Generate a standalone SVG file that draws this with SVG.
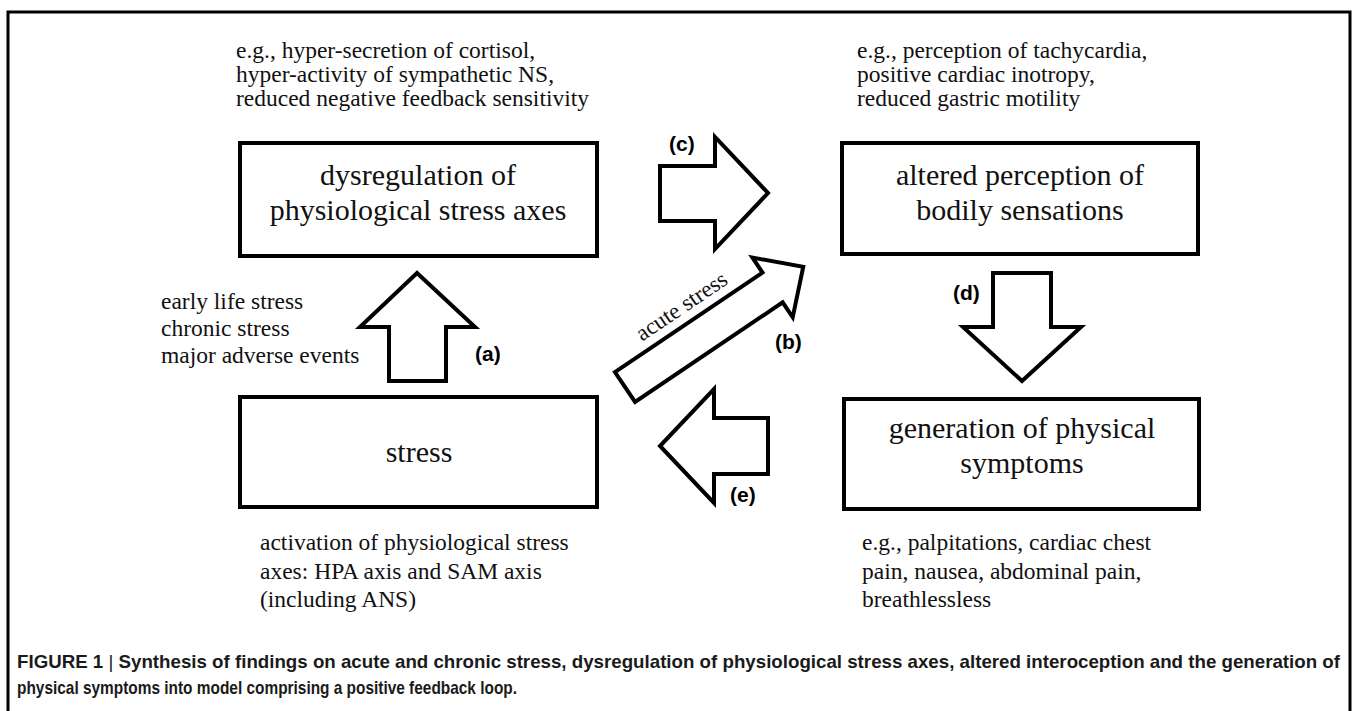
<svg xmlns="http://www.w3.org/2000/svg" width="1358" height="711" viewBox="0 0 1358 711">
<style>
.frame{fill:none;stroke:#000;stroke-width:3}
.box{fill:#fff;stroke:#000;stroke-width:4}
.arr{fill:#fff;stroke:#000;stroke-width:4;stroke-linejoin:miter}
.title{font-family:"Liberation Serif","Times New Roman",serif;font-size:30px;fill:#111;text-anchor:middle}
.note{font-family:"Liberation Serif","Times New Roman",serif;font-size:23.5px;fill:#111}
.lbl{font-family:"Liberation Sans",Arial,sans-serif;font-size:21px;font-weight:bold;fill:#000}
.cap{font-family:"Liberation Sans",Arial,sans-serif;font-size:19px;font-weight:bold;fill:#1a1a1a}
</style>
<rect x="0" y="0" width="1358" height="711" fill="#fff"/>
<rect class="frame" x="8" y="12" width="1342" height="760"/>

<g id="connectors">
  <polygon class="arr" points="417,273 475,327 446,327 446,381 389,381 389,327 360,327"/>
  <text class="lbl" x="475" y="361">(a)</text>
  <g transform="translate(625,387) rotate(-34)">
    <polygon class="arr" points="0,-18 178,-18 178,-36 215,0 178,36 178,18 0,18"/>
    <text class="note" x="92" y="-28" text-anchor="middle" style="font-size:23px">acute stress</text>
  </g>
  <text class="lbl" x="775" y="349">(b)</text>
  <polygon class="arr" points="660,166 715,166 715,137 768,193 715,249 715,221 660,221"/>
  <text class="lbl" x="669" y="151">(c)</text>
  <polygon class="arr" points="993,273 1051,273 1051,327 1081,327 1022,381 963,327 993,327"/>
  <text class="lbl" x="953" y="300">(d)</text>
  <polygon class="arr" points="768,418 714,418 714,389 660,446 714,503 714,474 768,474"/>
  <text class="lbl" x="730" y="502">(e)</text>
</g>

<g id="node-dysregulation">
  <rect class="box" x="240" y="143" width="357" height="113"/>
  <text class="title" x="418" y="185">dysregulation of</text>
  <text class="title" x="418" y="220">physiological stress axes</text>
  <text class="note" x="236" y="58">e.g., hyper-secretion of cortisol,</text>
  <text class="note" x="236" y="82">hyper-activity of sympathetic NS,</text>
  <text class="note" x="236" y="106">reduced negative feedback sensitivity</text>
</g>

<g id="node-altered-perception">
  <rect class="box" x="842" y="143" width="356" height="111"/>
  <text class="title" x="1020" y="185">altered perception of</text>
  <text class="title" x="1020" y="220">bodily sensations</text>
  <text class="note" x="857" y="58">e.g., perception of tachycardia,</text>
  <text class="note" x="857" y="82">positive cardiac inotropy,</text>
  <text class="note" x="857" y="106">reduced gastric motility</text>
</g>

<g id="node-stress">
  <rect class="box" x="240" y="397" width="357" height="110"/>
  <text class="title" x="419" y="462">stress</text>
  <text class="note" x="161" y="309">early life stress</text>
  <text class="note" x="161" y="336">chronic stress</text>
  <text class="note" x="161" y="363">major adverse events</text>
  <text class="note" x="260" y="550">activation of physiological stress</text>
  <text class="note" x="260" y="579">axes: HPA axis and SAM axis</text>
  <text class="note" x="260" y="607">(including ANS)</text>
</g>

<g id="node-physical-symptoms">
  <rect class="box" x="844" y="399" width="355" height="110"/>
  <text class="title" x="1022" y="438">generation of physical</text>
  <text class="title" x="1022" y="473">symptoms</text>
  <text class="note" x="862" y="550">e.g., palpitations, cardiac chest</text>
  <text class="note" x="862" y="579">pain, nausea, abdominal pain,</text>
  <text class="note" x="862" y="607">breathlessless</text>
</g>

<g id="caption">
  <text class="cap" x="17" y="668" textLength="1323" lengthAdjust="spacingAndGlyphs">FIGURE 1 <tspan style="font-weight:normal">|</tspan> Synthesis of findings on acute and chronic stress, dysregulation of physiological stress axes, altered interoception and the generation of</text>
  <text class="cap" x="17" y="694" textLength="500" lengthAdjust="spacingAndGlyphs">physical symptoms into model comprising a positive feedback loop.</text>
</g>
</svg>
